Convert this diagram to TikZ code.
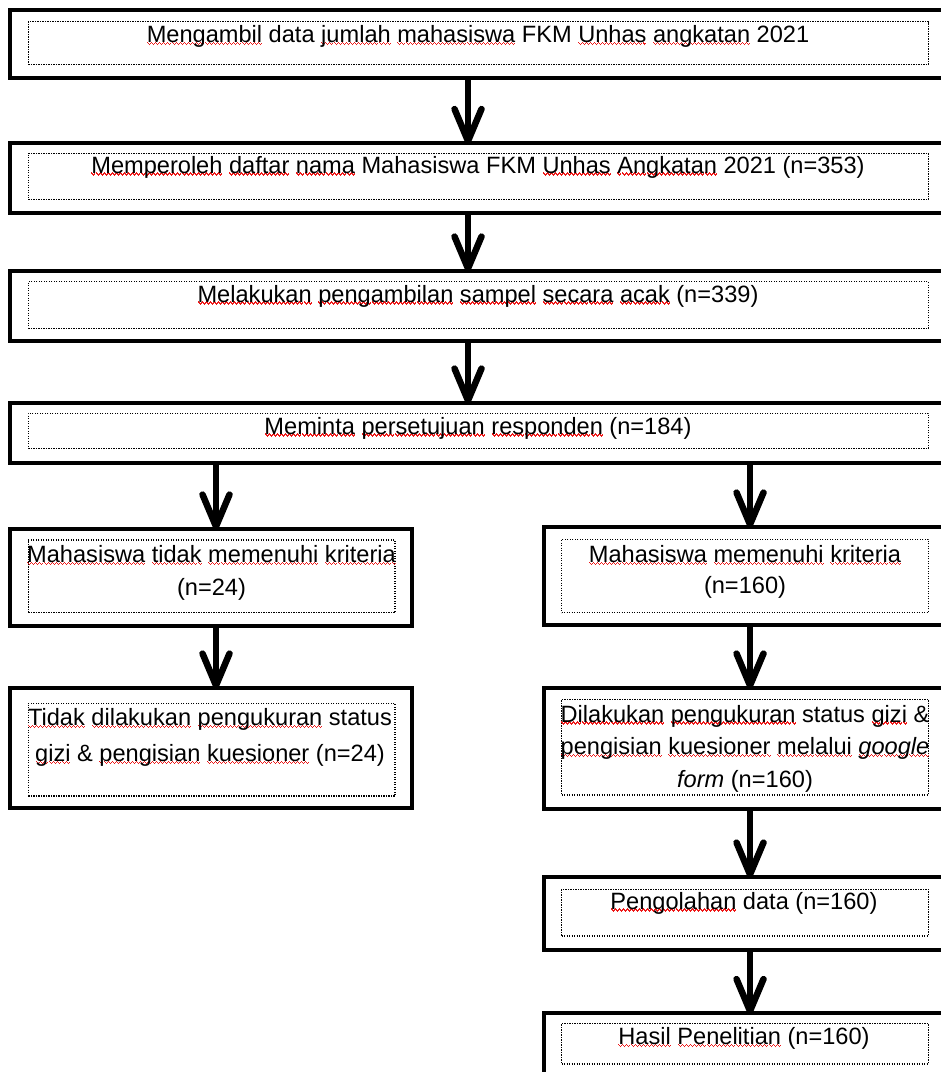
\documentclass[tikz,border=0pt]{standalone}
\usepackage{fontspec}
\setmainfont{Liberation Sans}
\usetikzlibrary{calc}
\definecolor{sqred}{rgb}{0.93,0.1,0.1}
\newsavebox\squnitbox
\sbox\squnitbox{{\color{sqred}\rule[-0.6pt]{1pt}{1.5pt}\rule[-1.7pt]{1pt}{1.5pt}\rule[-2.8pt]{1pt}{1.5pt}\rule[-1.7pt]{1pt}{1.5pt}}}
\newcommand\sq[1]{\setbox0\hbox{#1}\rlap{\hbox to\wd0{\xleaders\copy\squnitbox\hfil}}\box0\relax}
\newcommand\flow[3]{%
  \draw[stem] (#1.south -| #3) -- (#2.north -| #3);
  \draw[barb] ($(#2.north -| #3)+(-13.5,-32)$) -- (#2.north -| #3) -- ($(#2.north -| #3)+(13.5,-32)$);}
\tikzset{
  outerbox/.style={draw, line width=4pt, rectangle, inner sep=0pt, fill=white},
  innerbox/.style={draw, line width=1.5pt, dash pattern=on 1.2pt off 1.3pt, rectangle, inner sep=0pt},
  txt/.style={font=\fontsize{23.6}{#1}\selectfont, inner sep=0pt, align=center},
  txt/.default=33,
  stem/.style={line width=6pt},
  barb/.style={line width=6.5pt, line cap=round, line join=round},
}
\begin{document}
\begin{tikzpicture}[x=1pt,y=-1pt]
\useasboundingbox (0,0) rectangle (941,1072);
\clip (0,0) rectangle (941,1072);
\fill[white] (0,0) rectangle (941,1072);
\coordinate (ax) at (468,0);
\coordinate (lx) at (216,0);
\coordinate (rx) at (750,0);
% outer boxes
\node[outerbox, minimum width=950.5, minimum height=68] (b1) at (484.75,43.5) {};
\node[outerbox, minimum width=950.5, minimum height=70] (b2) at (484.75,178) {};
\node[outerbox, minimum width=950.5, minimum height=70] (b3) at (484.75,305.5) {};
\node[outerbox, minimum width=950.5, minimum height=60] (b4) at (484.75,432.5) {};
\node[outerbox, minimum width=402, minimum height=97] (l1) at (210.5,577) {};
\node[outerbox, minimum width=402, minimum height=120] (l2) at (210.5,747.5) {};
\node[outerbox, minimum width=416.5, minimum height=98] (r1) at (751.75,575.5) {};
\node[outerbox, minimum width=416.5, minimum height=121.5] (r2) at (751.75,748.25) {};
\node[outerbox, minimum width=416.5, minimum height=73] (r3) at (751.75,913) {};
\node[outerbox, minimum width=416.5, minimum height=87] (r4) at (751.75,1056.5) {};
% inner dotted boxes
\node[innerbox, minimum width=900, minimum height=42.8] (i1) at (478.3,43.1) {};
\node[innerbox, minimum width=900, minimum height=46.2] (i2) at (478.3,176.4) {};
\node[innerbox, minimum width=900, minimum height=46.6] (i3) at (478.3,305) {};
\node[innerbox, minimum width=900, minimum height=35] (i4) at (478.3,430.8) {};
\node[innerbox, minimum width=366.7, minimum height=72.7] (il1) at (211.65,576.35) {};
\node[innerbox, minimum width=366.7, minimum height=92.7] (il2) at (211.65,749.65) {};
\node[innerbox, minimum width=366.6, minimum height=73.4] (ir1) at (745,576) {};
\node[innerbox, minimum width=366.6, minimum height=95.7] (ir2) at (745,747.15) {};
\node[innerbox, minimum width=366.6, minimum height=46.7] (ir3) at (745,912.65) {};
\node[innerbox, minimum width=366.6, minimum height=40.7] (ir4) at (745,1043.65) {};
% texts
\node[txt, anchor=base] (t1) at (478,42.5) {\sq{Mengambil} data \sq{jumlah} \sq{mahasiswa} FKM \sq{Unhas} \sq{angkatan} 2021};
\node[txt, anchor=base] (t2) at (478,173) {\sq{Memperoleh} \sq{daftar} \sq{nama} Mahasiswa FKM \sq{Unhas} \sq{Angkatan} 2021 (n=353)};
\node[txt, anchor=base] (t3) at (478,302) {\sq{Melakukan} \sq{pengambilan} \sq{sampel} \sq{secara} \sq{acak} (n=339)};
\node[txt, anchor=base] (t4) at (478,434) {\sq{Meminta} \sq{persetujuan} \sq{responden} (n=184)};
\node[txt=33, anchor=north] (tl1) at (211.5,545.1) {\sq{Mahasiswa} \sq{tidak} \sq{memenuhi} \sq{kriteria}\\(n=24)};
\node[txt=36, anchor=north] (tl2) at (210,708.1) {\sq{Tidak} \sq{dilakukan} \sq{pengukuran} status\\\sq{gizi} \& \sq{pengisian} \sq{kuesioner} (n=24)};
\node[txt=31.5, anchor=north] (tr1) at (745,545.1) {\sq{Mahasiswa} \sq{memenuhi} \sq{kriteria}\\(n=160)};
\node[txt=32.5, anchor=north] (tr2) at (745,704.8) {\sq{Dilakukan} \sq{pengukuran} status \sq{gizi} \&\\\sq{pengisian} \sq{kuesioner} \sq{melalui} \sq{\textit{google}}\\\textit{form} (n=160)};
\node[txt, anchor=base] (tr3) at (744,909) {\sq{Pengolahan} data (n=160)};
\node[txt, anchor=base] (tr4) at (744,1044.5) {\sq{Hasil} \sq{Penelitian} (n=160)};
% arrows
\flow{b1}{b2}{ax}
\flow{b2}{b3}{ax}
\flow{b3}{b4}{ax}
\flow{b4}{l1}{lx}
\flow{b4}{r1}{rx}
\flow{l1}{l2}{lx}
\flow{r1}{r2}{rx}
\flow{r2}{r3}{rx}
\flow{r3}{r4}{rx}
\end{tikzpicture}
\end{document}
